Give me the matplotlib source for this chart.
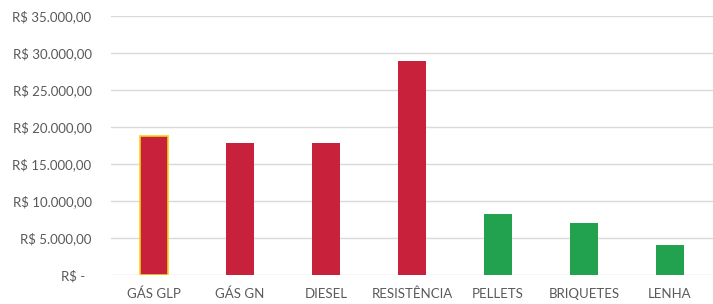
import matplotlib.pyplot as plt
from matplotlib.ticker import FuncFormatter

plt.rcParams['font.family'] = ['Lato', 'DejaVu Sans']

categories = ["GÁS GLP", "GÁS GN", "DIESEL", "RESISTÊNCIA", "PELLETS", "BRIQUETES", "LENHA"]
costs = [18800, 17900, 17900, 28900, 8300, 7000, 4100]
groups = ["fossil", "fossil", "fossil", "fossil", "bio", "bio", "bio"]
yticks = [0, 5000, 10000, 15000, 20000, 25000, 30000, 35000]

group_colors = {"fossil": "#C8213B", "bio": "#22A14F"}
text_color = "#595959"


def brl(v, pos=None):
    if v == 0:
        return "R$ -  "
    s = f"{v:,.2f}".replace(",", "X").replace(".", ",").replace("X", ".")
    return "R$ " + s


fig = plt.figure(figsize=(7.13, 3.04), dpi=100)
ax = fig.add_axes([111 / 713, 1 - 275 / 304, 1 - 111 / 713, (275 - 16) / 304])

x = list(range(len(categories)))
colors = [group_colors[g] for g in groups]
bars = ax.bar(x, costs, width=0.32, color=colors, zorder=2)
# first bar is outlined in yellow in the original
bars[0].set_edgecolor("#F2D21B")
bars[0].set_linewidth(1.2)

ax.set_xlim(-0.5, len(categories) - 0.5)
ax.set_ylim(0, 35000)
ax.set_yticks(yticks)
ax.yaxis.set_major_formatter(FuncFormatter(brl))
ax.set_xticks(x)
ax.set_xticklabels(categories)

ax.grid(axis="y", color="#D9D9D9", linewidth=1, zorder=0)
for s in ax.spines.values():
    s.set_visible(False)
ax.tick_params(axis="both", length=0, colors=text_color, labelsize=9.5)
ax.tick_params(axis="y", pad=14)
ax.tick_params(axis="x", pad=9)

fig.savefig("out.png", dpi=100)
